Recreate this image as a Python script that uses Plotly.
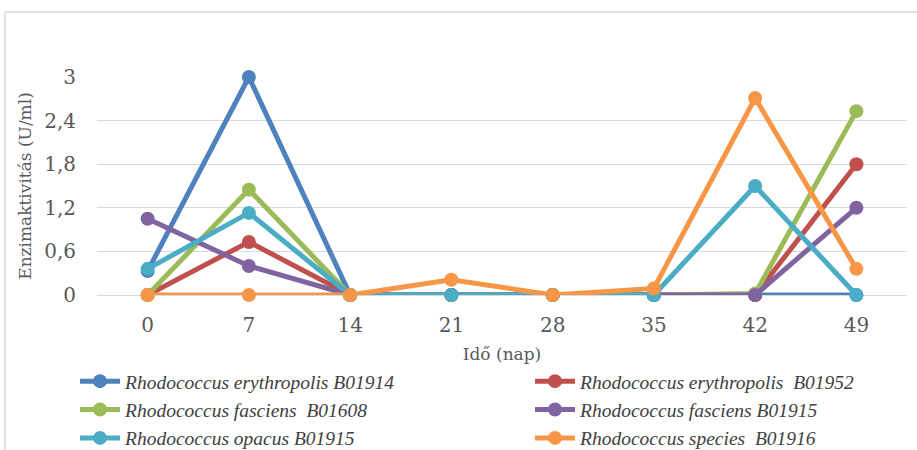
import plotly.graph_objects as go

days = ["0", "7", "14", "21", "28", "35", "42", "49"]
series_names = [
    "Rhodococcus erythropolis B01914",
    "Rhodococcus erythropolis  B01952",
    "Rhodococcus fasciens  B01608",
    "Rhodococcus fasciens B01915",
    "Rhodococcus opacus B01915",
    "Rhodococcus species  B01916",
]
ery_b01914 = [0.33, 3.0, 0, 0, 0, 0, 0, 0]
ery_b01952 = [0, 0.73, 0, 0, 0, 0, 0, 1.8]
fas_b01608 = [0, 1.45, 0, 0, 0, 0, 0.02, 2.53]
fas_b01915 = [1.05, 0.4, 0, 0, 0, 0, 0, 1.2]
opa_b01915 = [0.36, 1.13, 0, 0, 0, 0, 1.5, 0]
spe_b01916 = [0, 0, 0, 0.21, 0, 0.09, 2.71, 0.36]
values = [ery_b01914, ery_b01952, fas_b01608, fas_b01915, opa_b01915, spe_b01916]
colors = ["#4F81BD", "#C0504D", "#9BBB59", "#8064A2", "#4BACC6", "#F79646"]

y_tickvals = [0, 0.6, 1.2, 1.8, 2.4, 3]
y_ticktext = ["0", "0,6", "1,2", "1,8", "2,4", "3"]

fig = go.Figure()
for name, vals, col in zip(series_names, values, colors):
    fig.add_trace(go.Scatter(
        x=days, y=vals, mode="lines+markers",
        name="<i>" + name.replace("  ", "&nbsp; ") + "</i>",
        line=dict(color=col, width=5),
        marker=dict(color=col, size=14),
        cliponaxis=False,
    ))

W, H = 917, 450
L, R, T, B = 97, 10, 77, 155
pw, ph = W - L - R, H - T - B

def px(xp):
    return (xp - L) / pw

def py(yp):
    return (H - B - yp) / ph

SERIF = "DejaVu Serif"
LEG = "Liberation Serif, Times New Roman, serif"

fig.update_layout(
    width=W, height=H,
    margin=dict(l=L, r=R, t=T, b=B, autoexpand=False),
    paper_bgcolor="white", plot_bgcolor="white",
    font=dict(family=SERIF, color="#595959"),
    showlegend=True,
    legend=dict(
        orientation="h", x=px(75), y=py(362), xanchor="left", yanchor="top",
        entrywidth=400, entrywidthmode="pixels",
        font=dict(family=LEG, size=19.5, color="#404040"),
        itemwidth=40, tracegroupgap=0, bgcolor="rgba(0,0,0,0)", borderwidth=0,
    ),
    xaxis=dict(
        type="category", range=[-0.5, 7.5], showgrid=False, showline=False,
        ticks="", tickfont=dict(size=20, family=SERIF, color="#595959"),
        ticklabelstandoff=16,
        title=dict(text="Idő (nap)", font=dict(size=17, family=SERIF, color="#595959"), standoff=12),
    ),
    yaxis=dict(
        range=[0, 3], tickvals=y_tickvals, ticktext=y_ticktext,
        showgrid=True, gridcolor="#D9D9D9", gridwidth=1.3,
        zeroline=True, zerolinecolor="#D9D9D9", zerolinewidth=1.3,
        showline=False, ticks="", ticklabelstandoff=20,
        tickfont=dict(size=20, family=SERIF, color="#595959"),
        title=dict(text="Enzimaktivitás (U/ml)", font=dict(size=17, family=SERIF, color="#595959"), standoff=8),
    ),
    shapes=[dict(
        type="rect", xref="paper", yref="paper",
        x0=px(5), x1=px(925), y0=py(460), y1=py(12),
        line=dict(color="#D9D9D9", width=1.5), fillcolor="rgba(0,0,0,0)", layer="below",
    )],
)

fig.write_html("out.html")
